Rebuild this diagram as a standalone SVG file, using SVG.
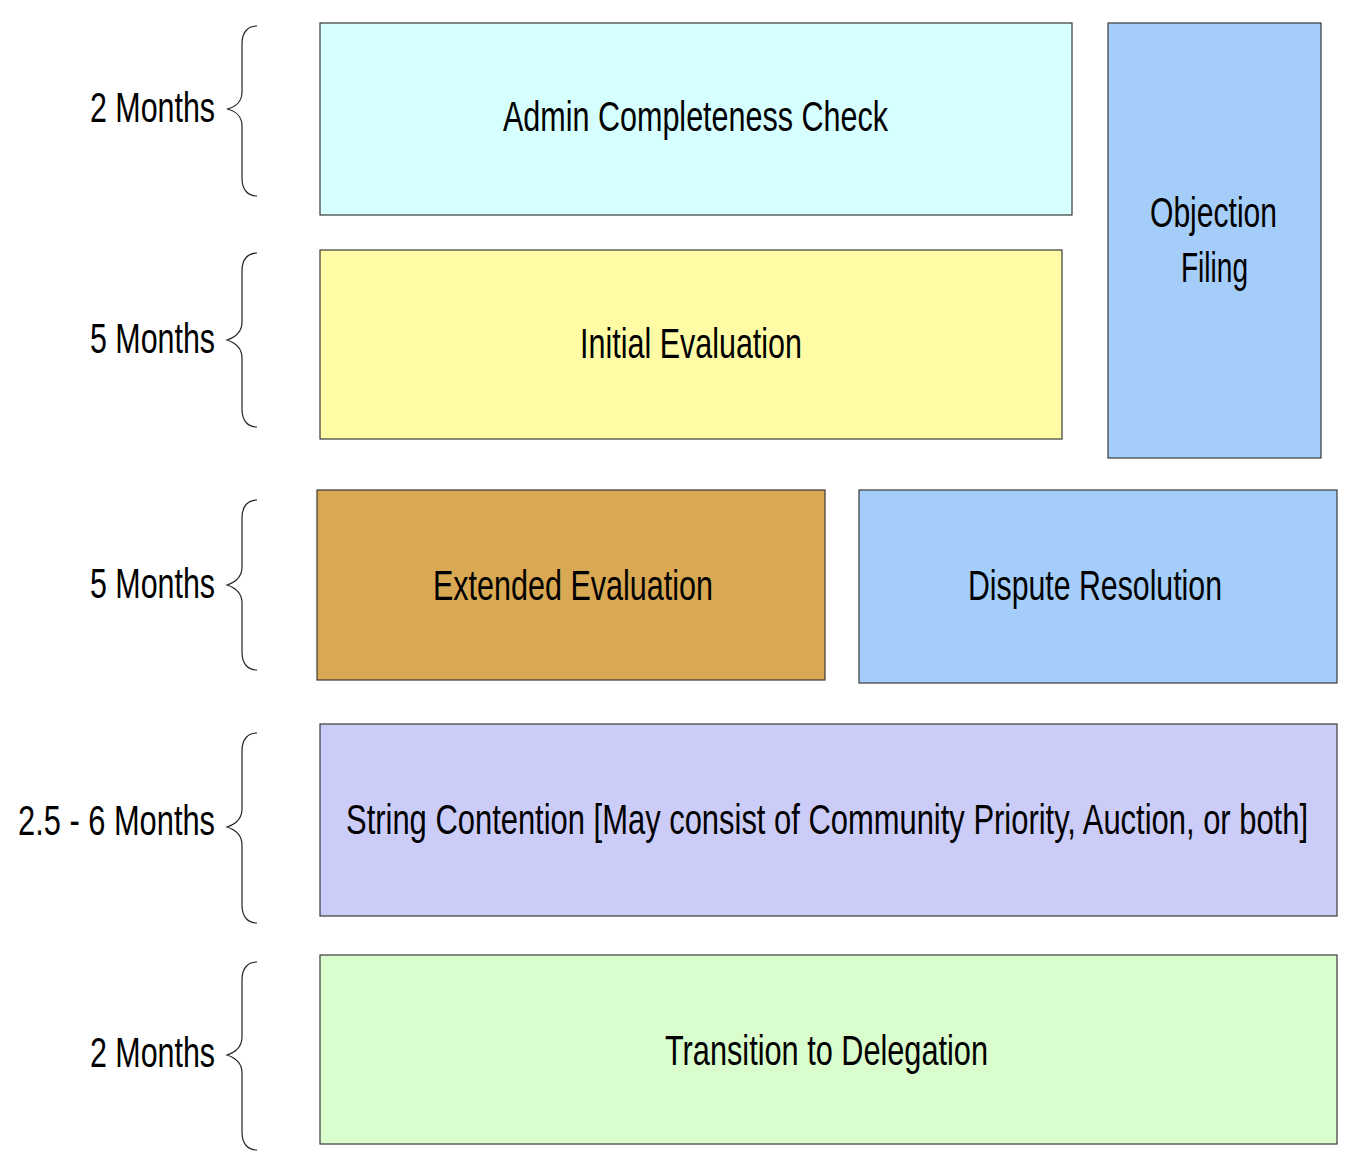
<svg xmlns="http://www.w3.org/2000/svg" width="1372" height="1168" viewBox="0 0 1372 1168">
<style>
.box{stroke:#3a3a3a;stroke-width:1.2}
.t{font-family:"Liberation Sans",Arial,sans-serif;font-size:43px;fill:#000;text-anchor:middle}
.lbl{font-family:"Liberation Sans",Arial,sans-serif;font-size:43px;fill:#000;text-anchor:end}
.brace{fill:none;stroke:#222;stroke-width:1.2}
</style>
<rect width="1372" height="1168" fill="#fff"/>
<g id="braces">
<g id="dur1"><path class="brace" d="M257,26 C248,26 242,32 242,44 L242,92 C242,101 236,107 227,109 C236,111 242,117 242,126 L242,178 C242,190 248,196 257,196"/><text class="lbl" x="215" y="122" textLength="125" lengthAdjust="spacingAndGlyphs">2 Months</text></g>
<g id="dur2"><path class="brace" d="M257,253 C248,253 242,259 242,271 L242,322 C242,331 236,337 227,340 C236,343 242,349 242,358 L242,409 C242,421 248,427 257,427"/><text class="lbl" x="215" y="353" textLength="125" lengthAdjust="spacingAndGlyphs">5 Months</text></g>
<g id="dur3"><path class="brace" d="M257,500 C248,500 242,506 242,518 L242,567 C242,576 236,582 227,585 C236,588 242,594 242,603 L242,652 C242,664 248,670 257,670"/><text class="lbl" x="215" y="598" textLength="125" lengthAdjust="spacingAndGlyphs">5 Months</text></g>
<g id="dur4"><path class="brace" d="M257,733 C248,733 242,739 242,751 L242,809 C242,818 236,824 227,827 C236,830 242,836 242,845 L242,905 C242,917 248,923 257,923"/><text class="lbl" x="215" y="835" textLength="197" lengthAdjust="spacingAndGlyphs">2.5 - 6 Months</text></g>
<g id="dur5"><path class="brace" d="M257,962 C248,962 242,968 242,980 L242,1037 C242,1046 236,1052 227,1055 C236,1058 242,1064 242,1073 L242,1132 C242,1144 248,1150 257,1150"/><text class="lbl" x="215" y="1067" textLength="125" lengthAdjust="spacingAndGlyphs">2 Months</text></g>
</g>
<g id="admin"><rect class="box" x="320" y="23" width="752" height="192" fill="#d6ffff"/><text class="t" x="695.5" y="131" textLength="385" lengthAdjust="spacingAndGlyphs">Admin Completeness Check</text></g>
<g id="initial"><rect class="box" x="320" y="250" width="742" height="189" fill="#fffca5"/><text class="t" x="691" y="358" textLength="222" lengthAdjust="spacingAndGlyphs">Initial Evaluation</text></g>
<g id="objection"><rect class="box" x="1108" y="23" width="213" height="435" fill="#a4cdf9"/><text class="t" x="1213.5" y="227" textLength="127" lengthAdjust="spacingAndGlyphs">Objection</text><text class="t" x="1214.5" y="282" textLength="67" lengthAdjust="spacingAndGlyphs">Filing</text></g>
<g id="extended"><rect class="box" x="317" y="490" width="508" height="190" fill="#d9a852"/><text class="t" x="573" y="600" textLength="280" lengthAdjust="spacingAndGlyphs">Extended Evaluation</text></g>
<g id="dispute"><rect class="box" x="859" y="490" width="478" height="193" fill="#a4cdf9"/><text class="t" x="1095" y="600" textLength="254" lengthAdjust="spacingAndGlyphs">Dispute Resolution</text></g>
<g id="contention"><rect class="box" x="320" y="724" width="1017" height="192" fill="#ccccf9"/><text class="t" transform="translate(827,834) scale(0.74,1)" x="0" y="0" textLength="1300" lengthAdjust="spacingAndGlyphs">String Contention [May consist of Community Priority, Auction, or both]</text></g>
<g id="transition"><rect class="box" x="320" y="955" width="1017" height="189" fill="#d9fdcc"/><text class="t" x="826.5" y="1065" textLength="323" lengthAdjust="spacingAndGlyphs">Transition to Delegation</text></g>
<g id="connectors"></g>
</svg>
